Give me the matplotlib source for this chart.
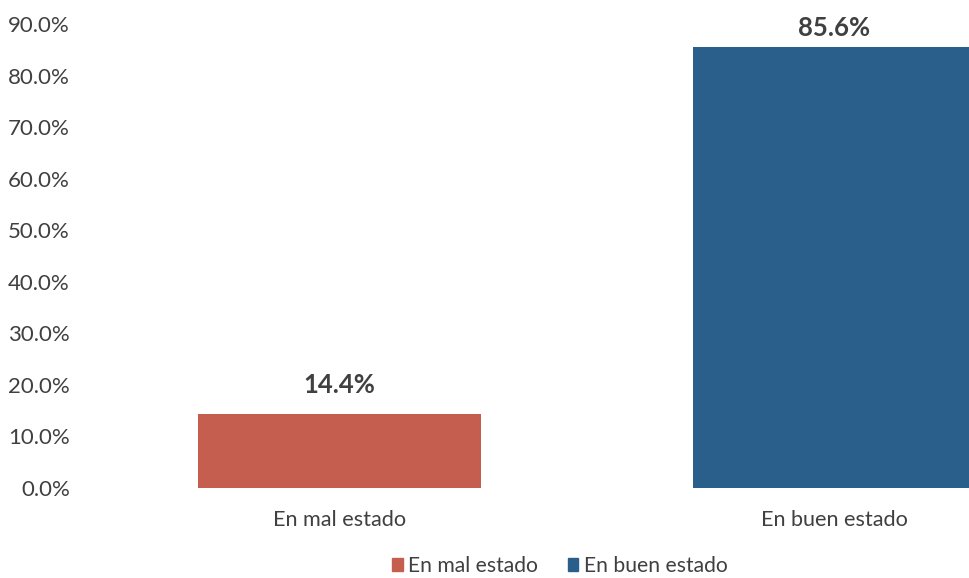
import matplotlib.pyplot as plt
from matplotlib.patches import Patch

categories = ['En mal estado', 'En buen estado']
values = [14.4, 85.6]
colors = ['#C55E4F', '#2B5F8B']
yticks = [0, 10, 20, 30, 40, 50, 60, 70, 80, 90]

plt.rcParams['font.family'] = ['Lato', 'DejaVu Sans']
text_color = '#404040'

fig = plt.figure(figsize=(9.7, 5.78), dpi=100)
ax = fig.add_axes([92 / 970, 90 / 578, 990 / 970, 464 / 578])

x = range(len(categories))
bars = ax.bar(x, values, width=0.572, color=colors)

# value labels above bars, kept inside the plot at the top
for b, v in zip(bars, values):
    ax.text(b.get_x() + b.get_width() / 2, min(v + 3.3, 86.9), f'{v:.1f}%',
            ha='center', va='bottom', fontsize=18.5, fontweight='bold',
            color=text_color)

ax.set_xlim(-0.5, 1.5)
ax.set_ylim(0, 90)
ax.set_yticks(yticks)
ax.set_yticklabels([f'{t:.1f}%' for t in yticks])
ax.set_xticks(list(x))
ax.set_xticklabels(categories)
ax.tick_params(axis='y', length=0, pad=16, labelsize=16, labelcolor=text_color)
ax.tick_params(axis='x', length=0, pad=16, labelsize=15.6, labelcolor=text_color)
for s in ax.spines.values():
    s.set_visible(False)

handles = [Patch(color=c, label=l) for c, l in zip(colors, categories)]
fig.legend(handles=handles, loc='center', bbox_to_anchor=(560 / 970, 12 / 578),
           ncol=2, frameon=False, fontsize=15.2, handlelength=0.5,
           handleheight=0.5, handletextpad=0.25, columnspacing=1.4,
           labelcolor=text_color)

fig.savefig('out.png', dpi=100)
